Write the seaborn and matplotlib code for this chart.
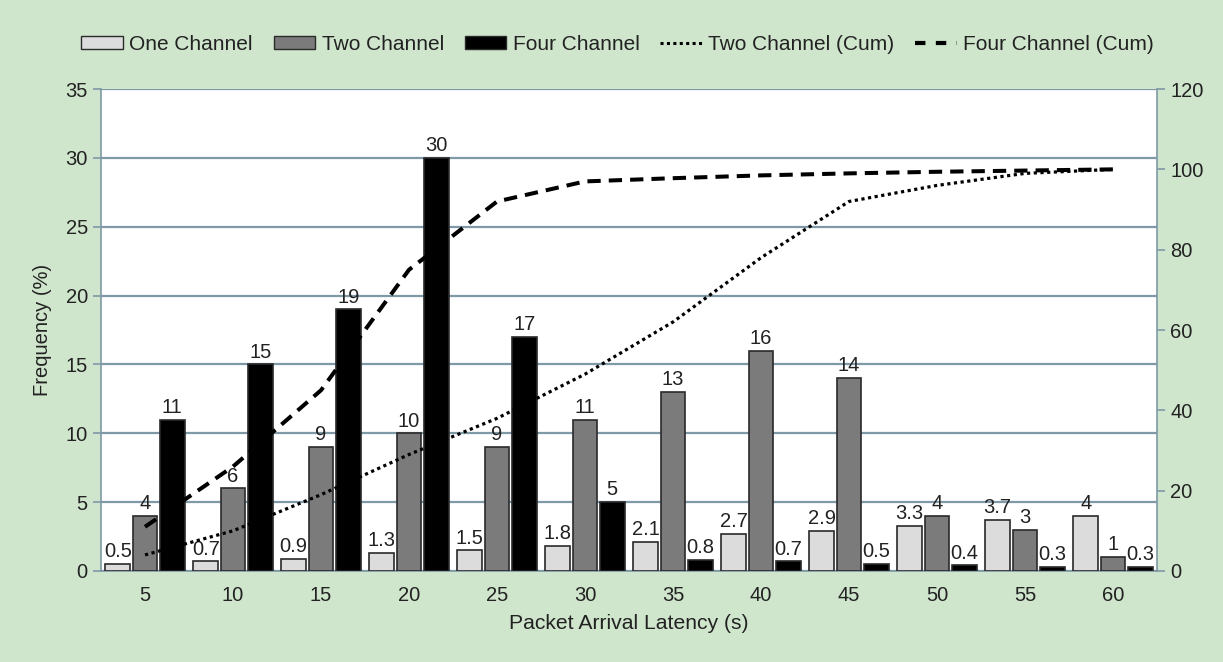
import numpy as np
import pandas as pd
import matplotlib
matplotlib.use("Agg")
import matplotlib.pyplot as plt
import seaborn as sns
from matplotlib.patches import Patch
from matplotlib.lines import Line2D

latency = ["5", "10", "15", "20", "25", "30", "35", "40", "45", "50", "55", "60"]
one_channel = [0.5, 0.7, 0.9, 1.3, 1.5, 1.8, 2.1, 2.7, 2.9, 3.3, 3.7, 4]
two_channel = [4, 6, 9, 10, 9, 11, 13, 16, 14, 4, 3, 1]
four_channel = [11, 15, 19, 30, 17, 5, 0.8, 0.7, 0.5, 0.4, 0.3, 0.3]
two_cum = [4, 10, 19, 29, 38, 49, 62, 78, 92, 96, 99, 100]
four_cum = [11, 26, 45, 75, 92, 97, 97.8, 98.5, 99, 99.4, 99.7, 100]
series_names = ["One Channel", "Two Channel", "Four Channel"]

BG = "#cfe6cc"
GRID = "#7f99a6"
TXT = "#222222"

sns.set_theme(style="white")
plt.rcParams["font.family"] = ["Liberation Sans", "DejaVu Sans"]

df = pd.DataFrame({
    "latency": latency * 3,
    "freq": one_channel + two_channel + four_channel,
    "series": sum([[s] * len(latency) for s in series_names], []),
})

fig = plt.figure(figsize=(12.23, 6.62), dpi=100, facecolor=BG)
ax = fig.add_axes([0.0826, 0.1375, 0.8634, 0.728])
ax.set_facecolor("white")

colors = ["#dcdcdc", "#7b7b7b", "#000000"]
sns.barplot(data=df, x="latency", y="freq", hue="series", hue_order=series_names,
            palette=colors, width=0.93, gap=0.1, edgecolor="#2a2a2a", linewidth=1.2,
            ax=ax, legend=False, zorder=3)

for cont in ax.containers:
    ax.bar_label(cont, fmt="%g", padding=2, fontsize=14.5, color=TXT, zorder=5)

ax.set_ylim(0, 35)
ax.set_yticks(np.arange(0, 36, 5))
ax.set_xlim(-0.5, len(latency) - 0.5)
ax.yaxis.grid(True, color=GRID, linewidth=1.6, zorder=0)
ax.set_axisbelow(True)
ax.set_xticks(np.arange(-0.5, len(latency), 1.0), minor=True)
ax.tick_params(axis="x", which="major", length=0, labelsize=14.5, colors=TXT, pad=11)
ax.tick_params(axis="x", which="minor", length=7, width=1.2, color=GRID, direction="out")
ax.tick_params(axis="y", length=6, width=1.2, color=GRID, direction="out", labelsize=14.5, labelcolor=TXT)
for s in ["left", "right", "bottom"]:
    ax.spines[s].set_color(GRID)
    ax.spines[s].set_linewidth(1.2)
ax.spines["top"].set_visible(False)
ax.set_xlabel("Packet Arrival Latency (s)", fontsize=15.2, color=TXT, labelpad=6)
ax.set_ylabel("Frequency (%)", fontsize=14.5, color=TXT, labelpad=10)

ax2 = ax.twinx()
xs = np.arange(len(latency))
sns.lineplot(x=xs, y=two_cum, ax=ax2, color="black", linestyle=(0, (1, 1.1)), linewidth=2.3)
sns.lineplot(x=xs, y=four_cum, ax=ax2, color="black", linestyle=(0, (3.3, 2)), linewidth=2.9)
ax2.set_ylim(0, 120)
ax2.set_yticks(np.arange(0, 121, 20))
ax2.tick_params(axis="y", length=6, width=1.2, color=GRID, direction="out", labelsize=14.5, labelcolor=TXT)
for s in ["left", "right", "bottom", "top"]:
    ax2.spines[s].set_visible(False)
ax2.grid(False)
ax2.set_xlim(-0.5, len(latency) - 0.5)

handles = [
    Patch(facecolor=colors[0], edgecolor="#2a2a2a", label="One Channel"),
    Patch(facecolor=colors[1], edgecolor="#2a2a2a", label="Two Channel"),
    Patch(facecolor=colors[2], edgecolor="#2a2a2a", label="Four Channel"),
    Line2D([0], [0], color="black", linestyle=(0, (1, 1.1)), linewidth=2.2, label="Two Channel (Cum)"),
    Line2D([0], [0], color="black", linestyle=(0, (2.5, 2.5)), linewidth=3, label="Four Channel (Cum)"),
]
fig.legend(handles=handles, loc="center", bbox_to_anchor=(0.505, 0.933), ncol=5, frameon=False,
           prop={"family": ["Liberation Sans"], "size": 15}, handlelength=2.0, handleheight=0.6,
           handletextpad=0.3, columnspacing=1.0, labelcolor=TXT)

fig.savefig("out.png", dpi=100, facecolor=BG)
